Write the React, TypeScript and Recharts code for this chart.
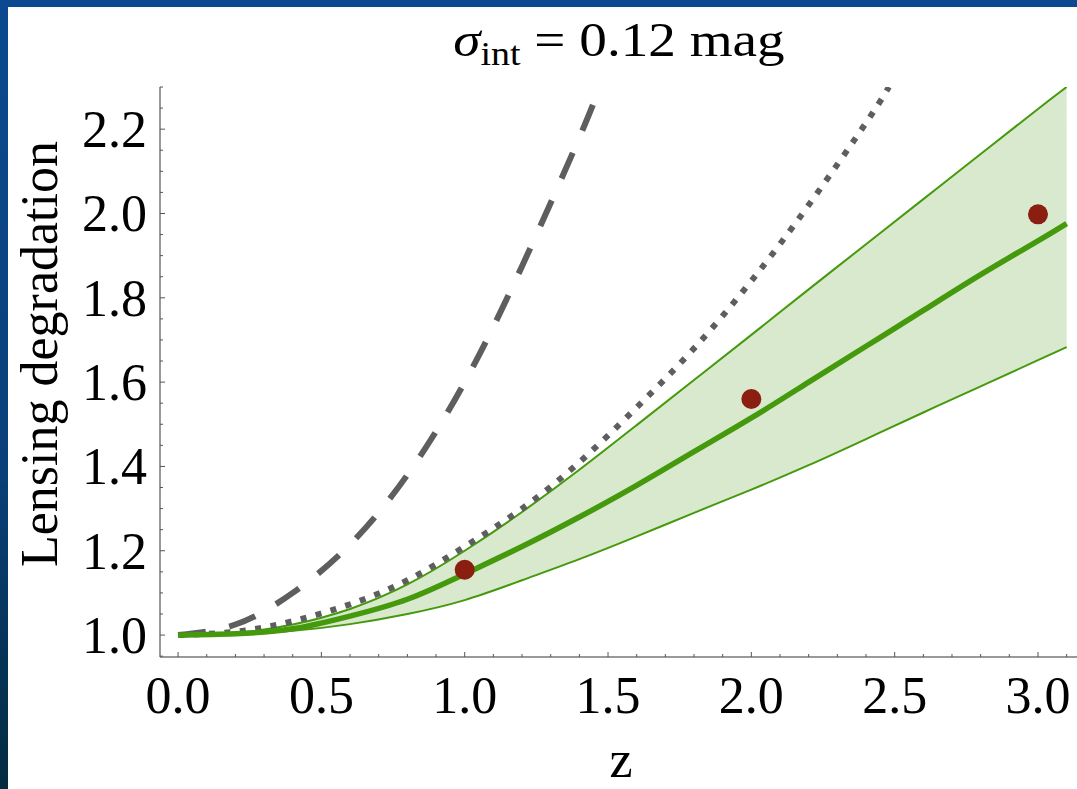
import React from "react";
import {
  ComposedChart, Area, Line, Scatter, XAxis, YAxis,
} from "recharts";

// band (green)
const zGrid = [0, 0.2, 0.4, 0.6, 0.8, 1.0, 1.2, 1.4, 1.6, 1.8, 2.0, 2.2, 2.4, 2.6, 2.8, 3.0, 3.1];
const bandLower = [1.0, 1.002, 1.01, 1.026, 1.05, 1.083, 1.13, 1.18, 1.234, 1.29, 1.345, 1.403, 1.465, 1.528, 1.59, 1.652, 1.683];
const bandMid = [1.0, 1.003, 1.015, 1.045, 1.085, 1.145, 1.21, 1.28, 1.355, 1.435, 1.515, 1.6, 1.685, 1.77, 1.855, 1.935, 1.976];
const bandUpper = [1.0, 1.005, 1.025, 1.062, 1.12, 1.2, 1.292, 1.392, 1.498, 1.605, 1.712, 1.82, 1.927, 2.034, 2.141, 2.248, 2.3];

// gray dashed curve
const dashedZ = [0, 0.2, 0.4, 0.6, 0.8, 1.0, 1.2, 1.4, 1.47];
const dashedVals = [1.0, 1.025, 1.1, 1.215, 1.38, 1.6, 1.875, 2.18, 2.3];

// gray dotted curve
const dottedZ = [0, 0.2, 0.4, 0.6, 0.8, 1.0, 1.2, 1.4, 1.6, 1.8, 2.0, 2.2, 2.4, 2.48];
const dottedVals = [1.0, 1.008, 1.033, 1.073, 1.13, 1.21, 1.3, 1.41, 1.54, 1.68, 1.84, 2.02, 2.215, 2.3];

// red points
const pointZ = [1.0, 2.0, 3.0];
const pointVals = [1.155, 1.56, 1.998];

const xMajor = [0, 0.5, 1.0, 1.5, 2.0, 2.5, 3.0];
const yMajor = [1.0, 1.2, 1.4, 1.6, 1.8, 2.0, 2.2];

const xTicks: number[] = [];
for (let i = 0; i <= 31; i++) xTicks.push(Math.round(i) / 10);
const yTicks: number[] = [];
for (let i = 19; i <= 46; i++) yTicks.push(Math.round(i * 5) / 100);

const isMajor = (list: number[], v: number) => list.some((m) => Math.abs(m - v) < 1e-6);

const bandData = zGrid.map((z, i) => ({
  z, band: [bandLower[i], bandUpper[i]], lo: bandLower[i], hi: bandUpper[i], mid: bandMid[i],
}));
const dashedData = dashedZ.map((z, i) => ({ z, v: dashedVals[i] }));
const dottedData = dottedZ.map((z, i) => ({ z, v: dottedVals[i] }));
const pointData = pointZ.map((z, i) => ({ z, v: pointVals[i] }));

const FONT = '"Liberation Serif", "DejaVu Serif", serif';
const txt = { fontFamily: FONT };
const GREEN = "#45990c";
const GRAY = "#5e5e5e";

const BottomTick = (props: any) => {
  const { x, y, payload } = props;
  const major = isMajor(xMajor, payload.value);
  return (
    <g>
      <line x1={x} y1={y} x2={x} y2={y - (major ? 5 : 3)} stroke="#555" strokeWidth={1} />
      {major && (
        <text x={x} y={y + 56} textAnchor="middle" fontSize={52} style={txt} fill="#000">
          {payload.value.toFixed(1)}
        </text>
      )}
    </g>
  );
};

const TopTick = (props: any) => {
  const { x, y, payload } = props;
  const major = isMajor(xMajor, payload.value);
  return <line x1={x} y1={y} x2={x} y2={y + (major ? 5 : 3)} stroke="#555" strokeWidth={1} />;
};

const LeftTick = (props: any) => {
  const { x, y, payload } = props;
  const major = isMajor(yMajor, payload.value);
  return (
    <g>
      <line x1={x} y1={y} x2={x + (major ? 5 : 3)} y2={y} stroke="#555" strokeWidth={1} />
      {major && (
        <text x={x - 13} y={y + 18} textAnchor="end" fontSize={52} style={txt} fill="#000">
          {payload.value.toFixed(1)}
        </text>
      )}
    </g>
  );
};

export default function App() {
  return (
    <div
      style={{
        position: "fixed", left: 0, top: 0, width: 1077, height: 789, overflow: "hidden",
        background: "linear-gradient(180deg, #0b4a90 0%, #0a3f78 60%, #022c40 100%)",
      }}
    >
      <div style={{ position: "absolute", left: 8, top: 7, right: 0, bottom: 0, background: "#fff" }} />
      <div style={{ position: "absolute", left: 0, top: 0 }}>
        <ComposedChart
          width={1100}
          height={789}
          data={bandData}
          margin={{ top: 87, right: 15, bottom: 92, left: 100 }}
        >
          <XAxis
            dataKey="z"
            type="number"
            domain={[-0.063, 3.164]}
            allowDataOverflow
            ticks={xTicks}
            interval={0}
            tickSize={0}
            tickMargin={0}
            tick={<BottomTick />}
            height={40}
            axisLine={{ stroke: "#777", strokeWidth: 1.5 }}
          />
          <XAxis
            xAxisId="top"
            orientation="top"
            dataKey="z"
            type="number"
            domain={[-0.063, 3.164]}
            allowDataOverflow
            ticks={xTicks}
            interval={0}
            tickSize={0}
            tickMargin={0}
            tick={<TopTick />}
            height={0}
            axisLine={{ stroke: "#333", strokeWidth: 1.5 }}
          />
          <YAxis
            type="number"
            domain={[0.948, 2.3]}
            allowDataOverflow
            ticks={yTicks}
            interval={0}
            tickSize={0}
            tickMargin={0}
            tick={<LeftTick />}
            width={60}
            axisLine={{ stroke: "#777", strokeWidth: 1.5 }}
          />
          <Area
            dataKey="band"
            type="natural"
            fill="#d9e9cd"
            fillOpacity={1}
            stroke="none"
            isAnimationActive={false}
          />
          <Line dataKey="lo" type="natural" stroke={GREEN} strokeWidth={2} dot={false} isAnimationActive={false} />
          <Line dataKey="hi" type="natural" stroke={GREEN} strokeWidth={2} dot={false} isAnimationActive={false} />
          <Line
            data={dottedData}
            dataKey="v"
            type="natural"
            stroke={GRAY}
            strokeWidth={6}
            strokeDasharray="6 9.5"
            dot={false}
            isAnimationActive={false}
          />
          <Line
            data={dashedData}
            dataKey="v"
            type="natural"
            stroke={GRAY}
            strokeWidth={6}
            strokeDasharray="28 24"
            dot={false}
            isAnimationActive={false}
          />
          <Line dataKey="mid" type="natural" stroke={GREEN} strokeWidth={5.5} dot={false} isAnimationActive={false} />
          <Scatter
            data={pointData}
            dataKey="v"
            isAnimationActive={false}
            shape={(p: any) => <circle cx={p.cx} cy={p.cy} r={10} fill="#8a1e10" />}
          />
        </ComposedChart>
      </div>
      <svg
        width={1077}
        height={789}
        style={{ position: "absolute", left: 0, top: 0, pointerEvents: "none" }}
      >
        <text
          transform="translate(619,56) scale(1.15,1)"
          textAnchor="middle"
          fontSize={48}
          style={txt}
          fill="#000"
        >
          <tspan fontStyle="italic">σ</tspan>
          <tspan fontSize={33} dy={9}>int</tspan>
          <tspan dy={-9}> = 0.12 mag</tspan>
        </text>
        <text
          transform="translate(57,354) rotate(-90)"
          textAnchor="middle"
          fontSize={52}
          style={txt}
          fill="#000"
        >
          Lensing degradation
        </text>
        <text x={621} y={777} textAnchor="middle" fontSize={52} style={txt} fill="#000">
          z
        </text>
      </svg>
    </div>
  );
}
